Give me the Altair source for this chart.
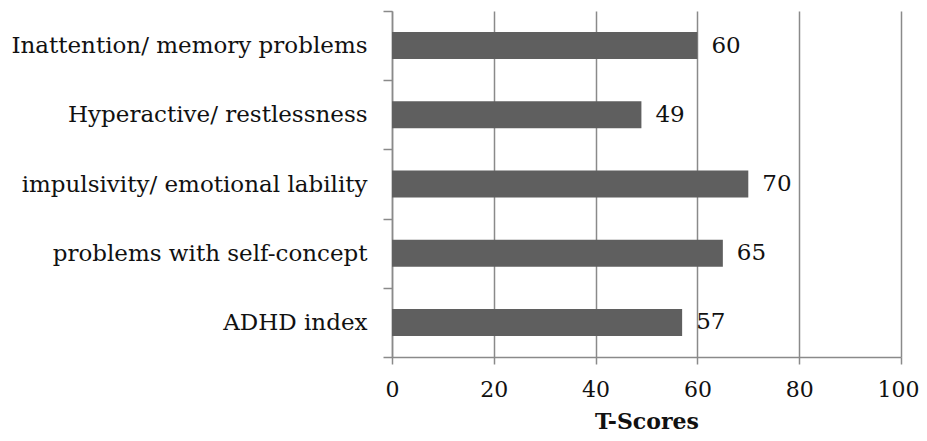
import altair as alt
import pandas as pd

categories = [
    "Inattention/ memory problems",
    "Hyperactive/ restlessness",
    "impulsivity/ emotional lability",
    "problems with self-concept",
    "ADHD index",
]
scores = [60, 49, 70, 65, 57]
x_ticks = [0, 20, 40, 60, 80, 100]

df = pd.DataFrame({"category": categories, "score": scores})

FONT = "DejaVu Serif"
FS = 23
GRID = "#8a8a8a"

y_enc = alt.Y(
    "category:N",
    sort=categories,
    scale=alt.Scale(paddingInner=0, paddingOuter=0),
    axis=alt.Axis(
        title=None,
        tickBand="extent",
        tickSize=9,
        tickColor=GRID,
        tickWidth=1.5,
        domainColor=GRID,
        domainWidth=1.5,
        labelPadding=16,
        labelFont=FONT,
        labelFontSize=FS,
        labelColor="#111111",
        labelLimit=500,
        grid=False,
    ),
)

x_enc = alt.X(
    "score:Q",
    scale=alt.Scale(domain=[0, 100], nice=False),
    axis=alt.Axis(
        values=x_ticks,
        title="T-Scores",
        titleFont=FONT,
        titleFontSize=22,
        titleFontWeight="bold",
        titleColor="#111111",
        titlePadding=11,
        tickSize=7,
        tickColor=GRID,
        tickWidth=1.5,
        domainColor=GRID,
        domainWidth=1.5,
        gridColor=GRID,
        gridWidth=1.5,
        gridOpacity=1,
        labelFont=FONT,
        labelFontSize=22,
        labelColor="#111111",
        labelPadding=15,
        labelFlush=False,
        labelOffset={"condition": {"test": "datum.value == 100", "value": -3}, "value": 0},
    ),
)

bars = alt.Chart(df).mark_bar(color="#5f5f5f", height={"band": 0.39}).encode(
    x=x_enc, y=y_enc
)

labels = alt.Chart(df).mark_text(
    align="left", baseline="middle", dx=14, font=FONT, fontSize=FS, color="#111111"
).encode(
    x=alt.X("score:Q"),
    y=alt.Y("category:N", sort=categories),
    text=alt.Text("score:Q"),
)

chart = (
    alt.layer(bars, labels)
    .properties(
        width=509,
        height=346,
        autosize=alt.AutoSizeParams(type="none"),
        padding={"left": 384, "top": 3, "right": 18, "bottom": 76},
    )
    .configure_view(stroke=None)
)

chart.save("out.html", embed_options={"renderer": "svg", "actions": False})
